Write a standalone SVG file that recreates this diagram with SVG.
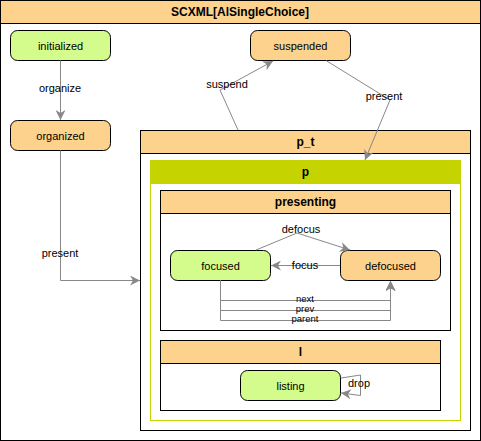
<svg xmlns="http://www.w3.org/2000/svg" width="481" height="441" viewBox="0 0 481 441">
<defs>
<marker id="ah" viewBox="0 0 10 10" refX="10" refY="5" markerWidth="10" markerHeight="10" markerUnits="userSpaceOnUse" orient="auto">
<path d="M0,0 L10,5 L0,10 L3,5 Z" fill="#888"/>
</marker>
</defs>
<style>
text{font-family:"Liberation Sans",Arial,sans-serif;font-size:11px;fill:#000;text-anchor:middle;dominant-baseline:central}
.t{font-weight:bold;font-size:12px}
.s{font-size:9.5px}
.hdr{fill:#fcd28c;stroke:#000;stroke-width:1}
.box{fill:#fff;stroke:#000;stroke-width:1}
.or{fill:#fcd28c;stroke:#000;stroke-width:1}
.gr{fill:#d4fc8c;stroke:#000;stroke-width:1}
.e{fill:none;stroke:#888;stroke-width:1;marker-end:url(#ah)}
</style>
<g id="root">
<rect class="box" x="0.5" y="0.5" width="480" height="440"/>
<rect class="hdr" x="0.5" y="0.5" width="480" height="23"/>
<text class="t" x="240" y="12">SCXML[AlSingleChoice]</text>
</g>
<g id="initialized"><rect class="gr" x="10.5" y="30.5" width="100" height="30" rx="7"/><text x="60.5" y="45.5">initialized</text></g>
<g id="organized"><rect class="or" x="10.5" y="120.5" width="100" height="30" rx="7"/><text x="60.5" y="135.5">organized</text></g>
<g id="suspended"><rect class="or" x="250.5" y="30.5" width="100" height="30" rx="7"/><text x="300.5" y="45.5">suspended</text></g>
<g id="p_t">
<rect class="box" x="140.5" y="130.5" width="330" height="300"/>
<rect class="hdr" x="140.5" y="130.5" width="330" height="23"/>
<text class="t" x="305.5" y="142">p_t</text>
</g>
<g id="p">
<rect x="150.5" y="160.5" width="310" height="260" fill="#fff" stroke="#c5d300" stroke-width="1"/>
<rect x="150" y="160" width="311" height="24" fill="#c5d300"/>
<text class="t" x="305.5" y="172">p</text>
</g>
<g id="presenting">
<rect class="box" x="160.5" y="190.5" width="290" height="140"/>
<rect class="hdr" x="160.5" y="190.5" width="290" height="23"/>
<text class="t" x="305.5" y="202">presenting</text>
</g>
<g id="focused"><rect class="gr" x="170.5" y="250.5" width="100" height="30" rx="7"/><text x="220.5" y="265.5">focused</text></g>
<g id="defocused"><rect class="or" x="340.5" y="250.5" width="100" height="30" rx="7"/><text x="390.5" y="265.5">defocused</text></g>
<g id="l">
<rect class="box" x="160.5" y="340.5" width="280" height="70"/>
<rect class="hdr" x="160.5" y="340.5" width="280" height="23"/>
<text class="t" x="300.5" y="352">l</text>
</g>
<g id="listing"><rect class="gr" x="240.5" y="370.5" width="100" height="30" rx="7"/><text x="290.5" y="385.5">listing</text></g>
<g id="connectors">
<path class="e" d="M60.5,60.5 V120"/>
<text x="60" y="88">organize</text>
<path class="e" d="M60.5,150.5 V280.5 H140"/>
<text x="60" y="253">present</text>
<path class="e" d="M238,130 L220,90 L273,61"/>
<text x="227" y="84">suspend</text>
<path class="e" d="M326,60.5 L390,100 L365,160"/>
<text x="384" y="96">present</text>
<path class="e" d="M256,250 L297,233 L350,250"/>
<text x="301" y="229">defocus</text>
<path class="e" d="M340,265.5 L271,265.5"/>
<text x="305" y="265">focus</text>
<path class="e" d="M220.5,280.5 V300.5 H390.5 V281"/>
<path class="e" d="M220.5,280.5 V310.5 H390.5 V281"/>
<path class="e" d="M220.5,280.5 V320.5 H390.5 V281"/>
<text class="s" x="305" y="298">next</text>
<text class="s" x="305" y="308">prev</text>
<text class="s" x="305" y="318">parent</text>
<path class="e" d="M341,378 L360.5,375 V395.5 L341,393"/>
<text x="359" y="383">drop</text>
</g>
</svg>
